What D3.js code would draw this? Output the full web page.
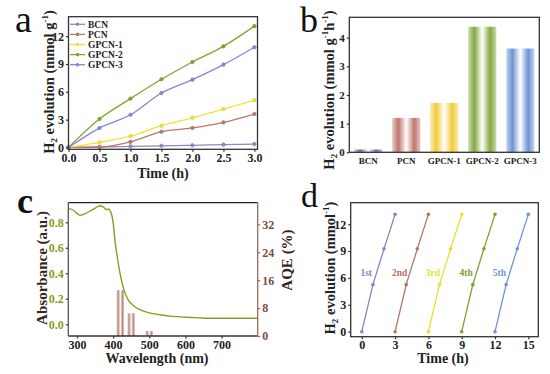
<!DOCTYPE html>
<html>
<head>
<meta charset="utf-8">
<title>H2 evolution panels</title>
<script src="https://d3js.org/d3.v7.min.js"></script>
<style>
  body { margin: 0; background: #fff; }
  svg text { font-family: "Liberation Serif", "Times New Roman", serif; }
</style>
</head>
<body>
<script>
// ---- data ----
var timeA = [0, 0.5, 1.0, 1.5, 2.0, 2.5, 3.0];
var seriesA = ["BCN", "PCN", "GPCN-1", "GPCN-2", "GPCN-3"];
var valsBCN   = [0, 0.05, 0.12, 0.18, 0.23, 0.30, 0.36];
var valsPCN   = [0, 0.05, 0.60, 1.70, 2.10, 2.70, 3.60];
var valsGPCN1 = [0, 0.54, 1.22, 2.34, 3.20, 4.14, 5.10];
var valsGPCN2 = [0, 3.06, 5.26, 7.35, 9.22, 10.90, 13.08];
var valsGPCN3 = [0, 2.09, 3.52, 5.87, 7.31, 8.93, 10.81];
var colorsA = ["#9385c6", "#b9786e", "#f1e23a", "#7ea72d", "#7d8bd4"];
var ticksAx = [0, 0.5, 1.0, 1.5, 2.0, 2.5, 3.0];
var ticksAy = [0, 3, 6, 9, 12];

var catsB = ["BCN", "PCN", "GPCN-1", "GPCN-2", "GPCN-3"];
var rateB = [0.10, 1.20, 1.72, 4.38, 3.62];
var colorsB = ["#6f6fa3", "#c0766c", "#f2cb3a", "#83a83f", "#6d93d3"];
var ticksBy = [0, 1, 2, 3, 4];

var wlAbs  = [276, 290, 300, 308, 320, 340, 354, 364, 373, 382, 387, 393, 400, 405, 412, 419, 430, 442, 455, 474, 500, 530, 565, 603, 640, 677, 720, 760, 800];
var absVal = [0.91, 0.895, 0.87, 0.855, 0.865, 0.895, 0.918, 0.93, 0.92, 0.90, 0.905, 0.885, 0.80, 0.66, 0.52, 0.40, 0.27, 0.19, 0.15, 0.115, 0.09, 0.075, 0.062, 0.055, 0.05, 0.047, 0.047, 0.047, 0.047];
var wlAqe  = [420, 450, 500];
var aqeVal = [13.1, 6.5, 1.4];
var ticksCx = [300, 400, 500, 600, 700];
var ticksCl = [0.0, 0.2, 0.4, 0.6, 0.8];
var ticksCr = [0, 8, 16, 24, 32];

var runsD = ["1st", "2nd", "3rd", "4th", "5th"];
var runTime = [0, 1, 2, 3];
var runVal = [0, 5.25, 9.25, 13.1];
var colorsD = ["#8585c5", "#b37563", "#e6e22a", "#7aa232", "#7391d8"];
var ticksDx = [0, 3, 6, 9, 12, 15];
var ticksDy = [0, 3, 6, 9, 12];

// ---- drawing ----
var svg = d3.select("body").append("svg").attr("width", 550).attr("height", 374);
var defs = svg.append("defs");
var AX = "#333";

function gradient(id, c) {
  var g = defs.append("linearGradient").attr("id", id).attr("x1", 0).attr("x2", 1).attr("y1", 0).attr("y2", 0);
  var light = d3.interpolateRgb(c, "#fff")(0.6);
  [[0, light], [0.22, c], [0.5, "#fff"], [0.78, c], [1, light]].forEach(function(s) {
    g.append("stop").attr("offset", s[0]).attr("stop-color", s[1]);
  });
  return "url(#" + id + ")";
}

function frame(x0, x1, y0, y1) {
  svg.append("rect").attr("x", x0).attr("y", y0).attr("width", x1 - x0).attr("height", y1 - y0)
    .attr("fill", "none").attr("stroke", AX).attr("stroke-width", 1.3);
}

function styleAxis(g, size, color) {
  g.select(".domain").remove();
  g.selectAll("line").attr("stroke", color || AX).attr("stroke-width", 1.2);
  g.selectAll("text").attr("font-size", size).attr("font-weight", "bold").attr("fill", color || "#222")
    .style("font-family", "'Liberation Serif', serif");
}

// rotated y title; segments are [text, "n" | "sub" | "sup"]
function richTitle(x, y, size, segs) {
  var t = svg.append("text").attr("transform", "translate(" + x + "," + y + ") rotate(-90)")
    .attr("text-anchor", "middle").attr("font-size", size).attr("font-weight", "bold").attr("fill", "#222");
  var cur = 0;
  segs.forEach(function(s) {
    var target = s[1] == "sub" ? size * 0.22 : s[1] == "sup" ? -size * 0.4 : 0;
    var ts = t.append("tspan").attr("dy", target - cur).text(s[0]);
    if (s[1] != "n") ts.attr("font-size", size * 0.62);
    cur = target;
  });
  return t;
}

function panelLabel(x, y, s, size, weight) {
  svg.append("text").attr("x", x).attr("y", y).attr("font-size", size)
    .attr("font-weight", weight || "normal").attr("fill", "#111").text(s);
}

// ===== panel a =====
(function() {
  var x = d3.scaleLinear().domain([0, 3.05]).range([68.5, 257.5]);
  var y = d3.scaleLinear().domain([-0.2, 14.1]).range([149.3, 16.7]);
  var data = [valsBCN, valsPCN, valsGPCN1, valsGPCN2, valsGPCN3];
  var line = d3.line().x(function(d, i) { return x(timeA[i]); }).y(function(d) { return y(d); }).curve(d3.curveMonotoneX);

  data.forEach(function(vals, k) {
    svg.append("path").datum(vals).attr("d", line).attr("fill", "none")
      .attr("stroke", colorsA[k]).attr("stroke-width", 1.3);
    svg.selectAll(null).data(vals).enter().append("circle")
      .attr("cx", function(d, i) { return x(timeA[i]); }).attr("cy", function(d) { return y(d); })
      .attr("r", 1.8).attr("fill", colorsA[k]).attr("stroke", d3.color(colorsA[k]).darker(0.4)).attr("stroke-width", 0.5);
  });

  var gx = svg.append("g").attr("transform", "translate(0,149.3)")
    .call(d3.axisBottom(x).tickValues(ticksAx).tickFormat(d3.format(".1f")).tickSize(2.5).tickPadding(2));
  styleAxis(gx, 12);
  var gy = svg.append("g").attr("transform", "translate(68.5,0)")
    .call(d3.axisLeft(y).tickValues(ticksAy).tickSize(2.5).tickPadding(2));
  styleAxis(gy, 12);
  frame(68.5, 257.5, 16.7, 149.3);

  // legend
  seriesA.forEach(function(s, i) {
    var ly = 24.3 + i * 10.1;
    svg.append("line").attr("x1", 70).attr("x2", 85).attr("y1", ly).attr("y2", ly)
      .attr("stroke", colorsA[i]).attr("stroke-width", 1.3);
    svg.append("circle").attr("cx", 77.5).attr("cy", ly).attr("r", 1.8).attr("fill", colorsA[i]);
    svg.append("text").attr("x", 88).attr("y", ly + 3.3).attr("font-size", 9.5).attr("font-weight", "bold")
      .attr("fill", "#222").text(s);
  });

  svg.append("text").attr("x", 163).attr("y", 178).attr("text-anchor", "middle")
    .attr("font-size", 14).attr("font-weight", "bold").attr("fill", "#222").text("Time (h)");
  richTitle(53.5, 82, 14.5, [["H", "n"], ["2", "sub"], [" evolution (mmol g", "n"], ["-1", "sup"], [")", "n"]]);
  panelLabel(15, 32, "a", 38);
})();

// ===== panel b =====
(function() {
  var x = d3.scaleBand().domain(catsB).range([349.3, 539.3]).paddingInner(0.26).paddingOuter(0.13);
  var y = d3.scaleLinear().domain([0, 4.71]).range([152.3, 17.3]);

  svg.selectAll(null).data(rateB).enter().append("rect")
    .attr("x", function(d, i) { return x(catsB[i]); })
    .attr("width", x.bandwidth())
    .attr("y", function(d) { return y(d); })
    .attr("height", function(d) { return y(0) - y(d); })
    .attr("fill", function(d, i) { return gradient("gb" + i, colorsB[i]); });

  var gx = svg.append("g").attr("transform", "translate(0,152.3)")
    .call(d3.axisBottom(x).tickSize(0).tickPadding(5));
  styleAxis(gx, 9);
  var gy = svg.append("g").attr("transform", "translate(349.3,0)")
    .call(d3.axisLeft(y).tickValues(ticksBy).tickFormat(d3.format("d")).tickSize(2.5).tickPadding(2));
  styleAxis(gy, 11);
  frame(349.3, 539.3, 17.3, 152.3);

  richTitle(333.5, 90, 14.5, [["H", "n"], ["2", "sub"], [" evolution (mmol g", "n"], ["-1", "sup"], ["h", "n"], ["-1", "sup"], [")", "n"]]);
  panelLabel(300, 32, "b", 36);
})();

// ===== panel c =====
(function() {
  var x = d3.scaleLinear().domain([276, 800]).range([68.3, 257.7]);
  var yl = d3.scaleLinear().domain([-0.092, 0.954]).range([336, 202.7]);
  var yr = d3.scaleLinear().domain([0, 38.2]).range([336, 202.7]);
  var bw = 7.5;
  var fill = gradient("gc", "#b98880");

  svg.selectAll(null).data(aqeVal).enter().append("rect")
    .attr("x", function(d, i) { return x(wlAqe[i]) - bw / 2; })
    .attr("width", bw)
    .attr("y", function(d) { return yr(d); })
    .attr("height", function(d) { return yr(0) - yr(d); })
    .attr("fill", fill);

  var line = d3.line().x(function(d, i) { return x(wlAbs[i]); }).y(function(d) { return yl(d); }).curve(d3.curveMonotoneX);
  svg.append("path").datum(absVal).attr("d", line).attr("fill", "none")
    .attr("stroke", "#8c9b1e").attr("stroke-width", 1.4);

  var gx = svg.append("g").attr("transform", "translate(0,336)")
    .call(d3.axisBottom(x).tickValues(ticksCx).tickSize(2.5).tickPadding(2));
  styleAxis(gx, 12);
  var gl = svg.append("g").attr("transform", "translate(68.3,0)")
    .call(d3.axisLeft(yl).tickValues(ticksCl).tickFormat(d3.format(".1f")).tickSize(2.5).tickPadding(2));
  styleAxis(gl, 12);
  gl.selectAll("text").attr("fill", "#8c9b1e");
  var gr = svg.append("g").attr("transform", "translate(257.7,0)")
    .call(d3.axisRight(yr).tickValues(ticksCr).tickSize(2.5).tickPadding(2));
  styleAxis(gr, 12, "#9a6a60");
  gr.selectAll("text").attr("fill", "#7a4d44");

  svg.append("line").attr("x1", 68.3).attr("x2", 257.7).attr("y1", 202.7).attr("y2", 202.7).attr("stroke", "#222").attr("stroke-width", 1.3);
  svg.append("line").attr("x1", 68.3).attr("x2", 257.7).attr("y1", 336).attr("y2", 336).attr("stroke", "#333").attr("stroke-width", 1.3);
  svg.append("line").attr("x1", 68.3).attr("x2", 68.3).attr("y1", 202.7).attr("y2", 336).attr("stroke", "#555").attr("stroke-width", 1.3);
  svg.append("line").attr("x1", 257.7).attr("x2", 257.7).attr("y1", 202.7).attr("y2", 336).attr("stroke", "#9a6a60").attr("stroke-width", 1.3);

  svg.append("text").attr("x", 157).attr("y", 363).attr("text-anchor", "middle")
    .attr("font-size", 14).attr("font-weight", "bold").attr("fill", "#222").text("Wavelength (nm)");
  svg.append("text").attr("transform", "translate(46.5,268) rotate(-90)").attr("text-anchor", "middle")
    .attr("font-size", 15).attr("font-weight", "bold").attr("fill", "#3a2420").text("Absorbance (a.u.)");
  svg.append("text").attr("transform", "translate(291.5,260) rotate(-90)").attr("text-anchor", "middle")
    .attr("font-size", 15).attr("font-weight", "bold").attr("fill", "#3a2420").text("AQE (%)");
  panelLabel(17, 213, "c", 36, "bold");
})();

// ===== panel d =====
(function() {
  var x = d3.scaleLinear().domain([-1, 15.9]).range([350.7, 538.3]);
  var y = d3.scaleLinear().domain([-0.56, 14.4]).range([336.7, 202.7]);
  var line = d3.line().x(function(d) { return x(d[0]); }).y(function(d) { return y(d[1]); });

  runsD.forEach(function(r, k) {
    var pts = runTime.map(function(t, i) { return [t + 3 * k, runVal[i]]; });
    svg.append("path").datum(pts).attr("d", line).attr("fill", "none")
      .attr("stroke", colorsD[k]).attr("stroke-width", 1.3);
    svg.selectAll(null).data(pts).enter().append("circle")
      .attr("cx", function(d) { return x(d[0]); }).attr("cy", function(d) { return y(d[1]); })
      .attr("r", 1.8).attr("fill", colorsD[k]);
    svg.append("text").attr("x", x(3 * k + 0.4)).attr("y", y(6.5) + 3).attr("text-anchor", "middle")
      .attr("font-size", 9.5).attr("font-weight", "bold").attr("fill", colorsD[k]).text(r);
  });

  var gx = svg.append("g").attr("transform", "translate(0,336.7)")
    .call(d3.axisBottom(x).tickValues(ticksDx).tickSize(2.5).tickPadding(1.5));
  styleAxis(gx, 12);
  var gy = svg.append("g").attr("transform", "translate(350.7,0)")
    .call(d3.axisLeft(y).tickValues(ticksDy).tickSize(2.5).tickPadding(2));
  styleAxis(gy, 12);
  frame(350.7, 538.3, 202.7, 336.7);

  svg.append("text").attr("x", 443).attr("y", 363).attr("text-anchor", "middle")
    .attr("font-size", 14).attr("font-weight", "bold").attr("fill", "#222").text("Time (h)");
  richTitle(335, 268, 14.5, [["H", "n"], ["2", "sub"], [" evolution (mmol", "n"], ["-1", "sup"], [")", "n"]]);
  panelLabel(301, 207, "d", 34);
})();
</script>
</body>
</html>
